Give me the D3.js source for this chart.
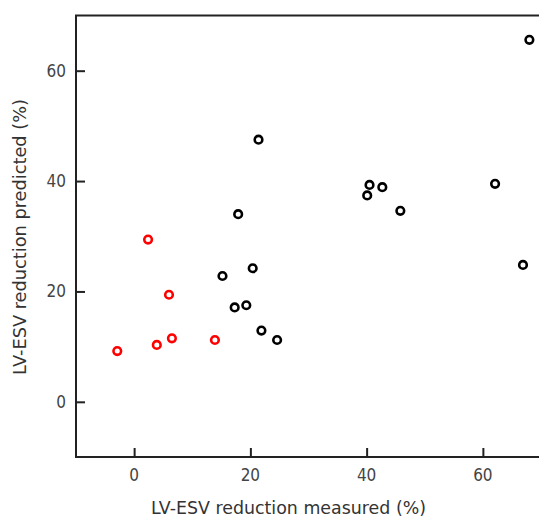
<!DOCTYPE html>
<html><head><meta charset="utf-8">
<script src="https://cdn.jsdelivr.net/npm/d3@7"></script>
<style>body{margin:0;background:#fff}svg{display:block}</style>
</head><body>
<svg id="c" width="539" height="518"></svg>
<script>
const blackX = [68.0, 21.4, 17.9, 40.5, 42.7, 40.1, 45.8, 62.1, 66.9, 24.6, 15.2, 20.4, 17.3, 19.3, 21.9];
const blackY = [65.6, 47.5, 34.0, 39.3, 38.9, 37.4, 34.6, 39.5, 24.8, 11.2, 22.8, 24.2, 17.1, 17.5, 12.9];
const redX = [2.4, 6.0, -2.9, 3.9, 6.5, 13.9];
const redY = [29.4, 19.4, 9.2, 10.3, 11.5, 11.2];
const xTicks = [0, 20, 40, 60];
const yTicks = [0, 20, 40, 60];
const xTitle = "LV-ESV reduction measured (%)";
const yTitle = "LV-ESV reduction predicted (%)";

const svg = d3.select("#c");
const x = d3.scaleLinear().domain([-10, 70]).range([76, 541]);
const y = d3.scaleLinear().domain([-10, 70]).range([457, 15.5]);

// frame
svg.append("path").attr("d", `M${x(70)},${y(70)}H${x(-10)}V${y(-10)}H${x(70)}`)
  .attr("fill", "none").attr("stroke", "#222").attr("stroke-width", 2);

const xAxis = svg.append("g").attr("transform", `translate(0,${y(-10)})`)
  .call(d3.axisTop(x).tickValues(xTicks).tickSize(9).tickFormat(""));
const yAxis = svg.append("g").attr("transform", `translate(${x(-10)},0)`)
  .call(d3.axisRight(y).tickValues(yTicks).tickSize(9).tickFormat(""));
[xAxis, yAxis].forEach(g => {
  g.select(".domain").remove();
  g.selectAll("line").attr("stroke", "#222").attr("stroke-width", 2);
});

const tf = "'DejaVu Sans Condensed', 'DejaVu Sans', sans-serif";
svg.append("g").selectAll("text").data(xTicks).join("text")
  .attr("x", d => x(d)).attr("y", 481).attr("text-anchor", "middle")
  .attr("font-family", tf).attr("font-size", 17).attr("fill", "#444").text(d => d);
svg.append("g").selectAll("text").data(yTicks).join("text")
  .attr("x", 66).attr("y", d => y(d) + 6).attr("text-anchor", "end")
  .attr("font-family", tf).attr("font-size", 17).attr("fill", "#444").text(d => d);

const titleFont = "'DejaVu Sans', sans-serif";
svg.append("text").attr("x", 288.5).attr("y", 514).attr("text-anchor", "middle")
  .attr("font-family", titleFont).attr("font-size", 17).attr("fill", "#333")
  .attr("textLength", 275).attr("lengthAdjust", "spacingAndGlyphs").text(xTitle);
svg.append("text").attr("transform", "translate(26,237) rotate(-90)").attr("text-anchor", "middle")
  .attr("font-family", titleFont).attr("font-size", 17).attr("fill", "#333")
  .attr("textLength", 276).attr("lengthAdjust", "spacingAndGlyphs").text(yTitle);

const black = blackX.map((v, i) => [v, blackY[i]]);
const red = redX.map((v, i) => [v, redY[i]]);
svg.append("g").selectAll("circle").data(black).join("circle")
  .attr("cx", d => x(d[0])).attr("cy", d => y(d[1])).attr("r", 3.8)
  .attr("fill", "none").attr("stroke", "#000").attr("stroke-width", 2.6);
svg.append("g").selectAll("circle").data(red).join("circle")
  .attr("cx", d => x(d[0])).attr("cy", d => y(d[1])).attr("r", 3.8)
  .attr("fill", "none").attr("stroke", "#f00").attr("stroke-width", 2.6);
</script>
</body></html>
